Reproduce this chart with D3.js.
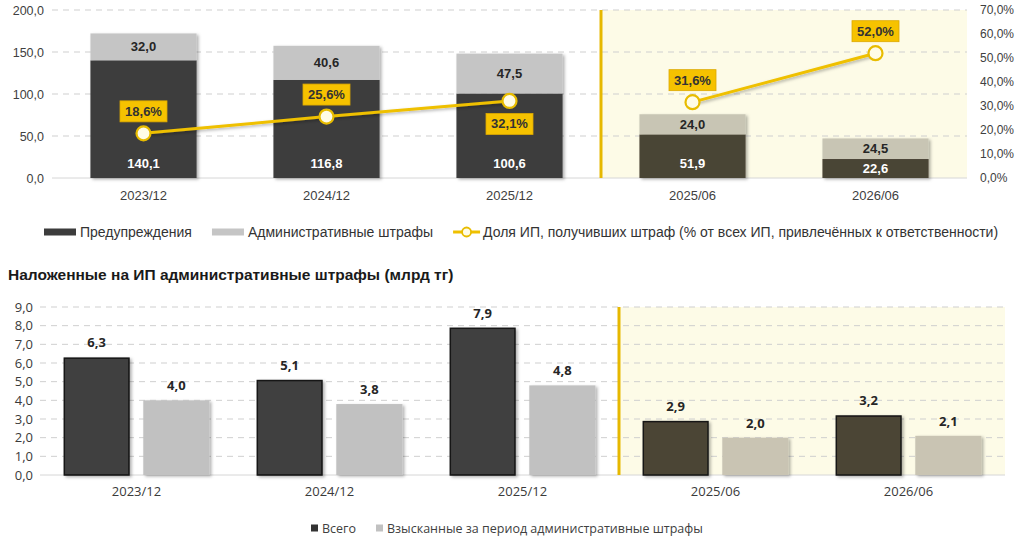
<!DOCTYPE html>
<html>
<head>
<meta charset="utf-8">
<script src="https://cdn.jsdelivr.net/npm/d3@7"></script>
<style>
body { margin: 0; background: #fff; }
svg { display: block; }
</style>
</head>
<body>
<svg id="chart" width="1024" height="538"></svg>
<script>
// data
var periods = ["2023/12", "2024/12", "2025/12", "2025/06", "2026/06"];
var warnings = [140.1, 116.8, 100.6, 51.9, 22.6];
var fines = [32.0, 40.6, 47.5, 24.0, 24.5];
var fineShare = [18.6, 25.6, 32.1, 31.6, 52.0];
var leftTicks = [0, 50, 100, 150, 200];
var rightTicks = [0, 10, 20, 30, 40, 50, 60, 70];
var lineSegments = [[0, 1, 2], [3, 4]];
var shareBelow = [false, false, true, false, false];

var finesTotal = [6.3, 5.1, 7.9, 2.9, 3.2];
var finesCollected = [4.0, 3.8, 4.8, 2.0, 2.1];
var bottomTicks = [0, 1, 2, 3, 4, 5, 6, 7, 8, 9];

var topLegend = ["Предупреждения", "Административные штрафы",
    "Доля ИП, получивших штраф (% от всех ИП, привлечённых к ответственности)"];
var bottomTitle = "Наложенные на ИП административные штрафы (млрд тг)";
var bottomLegend = ["Всего", "Взысканные за период административные штрафы"];

var fmt = function(d) { return d3.format(".1f")(d).replace(".", ","); };
var isHalf = function(i) { return i >= 3; }; // half-year periods, highlighted

var topFont = "'Liberation Sans', Arial, sans-serif";
var botFont = "'Open Sans', 'DejaVu Sans', sans-serif";
var gold = "#efc000";

var svg = d3.select("#chart");
var defs = svg.append("defs");
defs.append("filter").attr("id", "shadow")
    .attr("x", "-10%").attr("y", "-10%").attr("width", "130%").attr("height", "130%")
    .append("feDropShadow")
    .attr("dx", 2).attr("dy", 1.5).attr("stdDeviation", 1.5)
    .attr("flood-color", "#000").attr("flood-opacity", 0.3);

// ---------- top chart ----------
var x = d3.scaleBand().domain(periods).range([52, 967]).paddingInner(0.42).paddingOuter(0.21);
var yL = d3.scaleLinear().domain([0, 200]).range([178, 10]);
var yR = d3.scaleLinear().domain([0, 70]).range([178, 10]);
var split = x(periods[3]) - x.step() * x.paddingInner() / 2;

var g1 = svg.append("g");

g1.append("rect")
    .attr("x", split).attr("y", yL(200))
    .attr("width", x.range()[1] - split).attr("height", yL(0) - yL(200))
    .attr("fill", "#fdfbe7");

g1.selectAll(".grid").data(leftTicks).enter().append("line")
    .attr("x1", x.range()[0]).attr("x2", x.range()[1])
    .attr("y1", function(d) { return yL(d); }).attr("y2", function(d) { return yL(d); })
    .attr("stroke", function(d) { return d == 0 ? "#d6d6d6" : "#cfcfcf"; })
    .attr("stroke-width", 1)
    .attr("stroke-dasharray", function(d) { return d == 0 ? null : "6,5"; });

g1.append("line")
    .attr("x1", split).attr("x2", split)
    .attr("y1", yL(200)).attr("y2", yL(0))
    .attr("stroke", "#e6b800").attr("stroke-width", 3);

var leftAxis = g1.append("g").attr("transform", "translate(52,0)")
    .call(d3.axisLeft(yL).tickValues(leftTicks).tickFormat(fmt).tickSize(0).tickPadding(8));
var rightAxis = g1.append("g").attr("transform", "translate(967,0)")
    .call(d3.axisRight(yR).tickValues(rightTicks).tickFormat(function(d) { return fmt(d) + "%"; })
        .tickSize(0).tickPadding(13));
var bottomAxis = g1.append("g").attr("transform", "translate(0,178)")
    .call(d3.axisBottom(x).tickSize(0).tickPadding(13));

[leftAxis, rightAxis, bottomAxis].forEach(function(a) {
    a.select(".domain").remove();
    a.selectAll("text").attr("font-family", topFont).attr("fill", "#404040");
});
leftAxis.selectAll("text").attr("font-size", 12.5);
rightAxis.selectAll("text").attr("font-size", 12);
bottomAxis.selectAll("text").attr("font-size", 13);

var bars = g1.append("g").attr("filter", "url(#shadow)");
bars.selectAll(".warn").data(warnings).enter().append("rect")
    .attr("x", function(d, i) { return x(periods[i]); })
    .attr("width", x.bandwidth())
    .attr("y", function(d) { return yL(d); })
    .attr("height", function(d) { return yL(0) - yL(d); })
    .attr("fill", function(d, i) { return isHalf(i) ? "#4a4535" : "#3c3c3c"; });
bars.selectAll(".fine").data(fines).enter().append("rect")
    .attr("x", function(d, i) { return x(periods[i]); })
    .attr("width", x.bandwidth())
    .attr("y", function(d, i) { return yL(warnings[i] + d); })
    .attr("height", function(d, i) { return yL(warnings[i]) - yL(warnings[i] + d); })
    .attr("fill", function(d, i) { return isHalf(i) ? "#c8c5b4" : "#c5c5c5"; });

g1.selectAll(".warnLabel").data(warnings).enter().append("text")
    .attr("x", function(d, i) { return x(periods[i]) + x.bandwidth() / 2; })
    .attr("y", function(d) { return Math.max(yL(0) - 15, (yL(d) + yL(0)) / 2); })
    .attr("text-anchor", "middle").attr("dominant-baseline", "central")
    .attr("font-family", topFont).attr("font-size", 13).attr("font-weight", "bold")
    .attr("fill", "#fff")
    .text(fmt);
g1.selectAll(".fineLabel").data(fines).enter().append("text")
    .attr("x", function(d, i) { return x(periods[i]) + x.bandwidth() / 2; })
    .attr("y", function(d, i) { return (yL(warnings[i]) + yL(warnings[i] + d)) / 2; })
    .attr("text-anchor", "middle").attr("dominant-baseline", "central")
    .attr("font-family", topFont).attr("font-size", 13).attr("font-weight", "bold")
    .attr("fill", "#262626")
    .text(fmt);

var cx = function(i) { return x(periods[i]) + x.bandwidth() / 2; };
var line = d3.line().x(function(i) { return cx(i); }).y(function(i) { return yR(fineShare[i]); });
g1.selectAll(".shareLine").data(lineSegments).enter().append("path")
    .attr("d", line)
    .attr("fill", "none").attr("stroke", gold).attr("stroke-width", 3)
    .attr("filter", "url(#shadow)");
g1.selectAll(".dot").data(fineShare).enter().append("circle")
    .attr("cx", function(d, i) { return cx(i); })
    .attr("cy", function(d) { return yR(d); })
    .attr("r", 7)
    .attr("fill", "#fffce6").attr("stroke", "#e8bc00").attr("stroke-width", 2.2);

var shareLabels = g1.selectAll(".shareLabel").data(fineShare).enter().append("g")
    .attr("transform", function(d, i) {
        return "translate(" + cx(i) + "," + (yR(d) + (shareBelow[i] ? 23 : -22)) + ")";
    });
shareLabels.append("rect")
    .attr("x", -23.5).attr("y", -10.5).attr("width", 47).attr("height", 21)
    .attr("fill", "#f6c200").attr("stroke", "#dda900").attr("stroke-width", 0.8);
shareLabels.append("text")
    .attr("text-anchor", "middle").attr("dominant-baseline", "central")
    .attr("font-family", topFont).attr("font-size", 13).attr("font-weight", "bold")
    .attr("fill", "#333")
    .text(function(d) { return fmt(d) + "%"; });

// top legend
var lg = svg.append("g").attr("transform", "translate(44,232)");
var lx = 0;
topLegend.forEach(function(t, i) {
    if (i < 2) {
        lg.append("rect").attr("x", lx).attr("y", -3.5).attr("width", 32).attr("height", 7)
            .attr("fill", i == 0 ? "#3c3c3c" : "#c5c5c5");
        lx += 36;
    } else {
        lg.append("line").attr("x1", lx).attr("x2", lx + 27).attr("y1", 0).attr("y2", 0)
            .attr("stroke", gold).attr("stroke-width", 3);
        lg.append("circle").attr("cx", lx + 13.5).attr("cy", 0).attr("r", 4.5)
            .attr("fill", "#fffce6").attr("stroke", "#e8bc00").attr("stroke-width", 1.8);
        lx += 30;
    }
    var tx = lg.append("text").attr("x", lx).attr("y", 0)
        .attr("dominant-baseline", "central")
        .attr("font-family", topFont).attr("font-size", 14).attr("fill", "#333")
        .text(t);
    lx += tx.node().getComputedTextLength() + 20;
});

// ---------- bottom chart ----------
svg.append("text")
    .attr("x", 8).attr("y", 274).attr("dominant-baseline", "central")
    .attr("font-family", topFont).attr("font-size", 15.5).attr("font-weight", "bold")
    .attr("fill", "#1a1a1a")
    .text(bottomTitle);

var x2 = d3.scaleBand().domain(periods).range([40, 1005]).paddingInner(0.244).paddingOuter(0.122);
var xs = d3.scaleBand().domain(["total", "collected"]).range([0, x2.bandwidth()]).paddingInner(0.17);
var y2 = d3.scaleLinear().domain([0, 9]).range([475, 307]);
var split2 = x2(periods[3]) - x2.step() * x2.paddingInner() / 2;

var g2 = svg.append("g");
g2.append("rect")
    .attr("x", split2).attr("y", y2(9))
    .attr("width", x2.range()[1] - split2).attr("height", y2(0) - y2(9))
    .attr("fill", "#fdfbe7");

g2.selectAll(".grid").data(bottomTicks).enter().append("line")
    .attr("x1", x2.range()[0]).attr("x2", x2.range()[1])
    .attr("y1", function(d) { return y2(d); }).attr("y2", function(d) { return y2(d); })
    .attr("stroke", function(d) { return d == 0 ? "#d6d6d6" : "#cfcfcf"; })
    .attr("stroke-dasharray", function(d) { return d == 0 ? null : "6,5"; });

g2.append("line")
    .attr("x1", split2).attr("x2", split2)
    .attr("y1", y2(9)).attr("y2", y2(0))
    .attr("stroke", "#e6b800").attr("stroke-width", 3);

var leftAxis2 = g2.append("g").attr("transform", "translate(40,0)")
    .call(d3.axisLeft(y2).tickValues(bottomTicks).tickFormat(fmt).tickSize(0).tickPadding(7));
var bottomAxis2 = g2.append("g").attr("transform", "translate(0,475)")
    .call(d3.axisBottom(x2).tickSize(0).tickPadding(12));
[leftAxis2, bottomAxis2].forEach(function(a) {
    a.select(".domain").remove();
    a.selectAll("text").attr("font-family", botFont).attr("font-size", 13).attr("fill", "#3a3a3a");
});

var bars2 = g2.append("g").attr("filter", "url(#shadow)");
bars2.selectAll(".total").data(finesTotal).enter().append("rect")
    .attr("x", function(d, i) { return x2(periods[i]) + xs("total") + 0.75; })
    .attr("width", xs.bandwidth() - 1.5)
    .attr("y", function(d) { return y2(d) + 0.75; })
    .attr("height", function(d) { return y2(0) - y2(d) - 0.75; })
    .attr("fill", function(d, i) { return isHalf(i) ? "#4b4534" : "#3f3f3f"; })
    .attr("stroke", "#161616").attr("stroke-width", 1.5);
bars2.selectAll(".collected").data(finesCollected).enter().append("rect")
    .attr("x", function(d, i) { return x2(periods[i]) + xs("collected"); })
    .attr("width", xs.bandwidth())
    .attr("y", function(d) { return y2(d); })
    .attr("height", function(d) { return y2(0) - y2(d); })
    .attr("fill", function(d, i) { return isHalf(i) ? "#c9c4b3" : "#c1c1c1"; });

[[finesTotal, "total"], [finesCollected, "collected"]].forEach(function(s) {
    g2.selectAll(".lbl-" + s[1]).data(s[0]).enter().append("text")
        .attr("x", function(d, i) { return x2(periods[i]) + xs(s[1]) + xs.bandwidth() / 2; })
        .attr("y", function(d) { return y2(d) - 15; })
        .attr("text-anchor", "middle").attr("dominant-baseline", "central")
        .attr("font-family", botFont).attr("font-size", 13).attr("font-weight", "bold")
        .attr("fill", "#262626")
        .text(fmt);
});

// bottom legend
var lg2 = svg.append("g").attr("transform", "translate(311,528)");
var lx2 = 0;
bottomLegend.forEach(function(t, i) {
    lg2.append("rect").attr("x", lx2).attr("y", -3.5).attr("width", 7).attr("height", 7)
        .attr("fill", i == 0 ? "#333" : "#c1c1c1");
    lx2 += 11;
    var tx = lg2.append("text").attr("x", lx2).attr("y", 0)
        .attr("dominant-baseline", "central")
        .attr("font-family", botFont).attr("font-size", 12.5).attr("fill", "#404040")
        .text(t);
    lx2 += tx.node().getComputedTextLength() + 20;
});
</script>
</body>
</html>
